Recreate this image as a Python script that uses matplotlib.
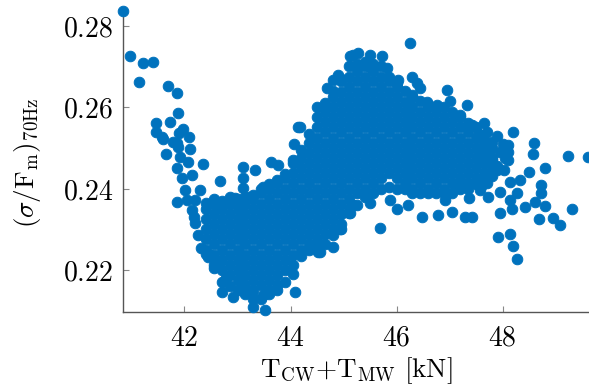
import numpy as np
import matplotlib
matplotlib.use('Agg')
import matplotlib.pyplot as plt
from matplotlib.ticker import FuncFormatter

plt.rcParams['mathtext.fontset'] = 'cm'
plt.rcParams['font.family'] = 'DejaVu Serif'

# --- dense core of the cloud, read column by column (x, list of y) ---
core_cols = [
    (42.40, [0.2240, 0.2250, 0.2275, 0.2300, 0.2325, 0.2350, 0.2365]),
    (42.55, [0.2205, 0.2213, 0.2238, 0.2263, 0.2288, 0.2313, 0.2338, 0.2363, 0.2375]),
    (42.70, [0.2170, 0.2200, 0.2225, 0.2250, 0.2275, 0.2300, 0.2325, 0.2350, 0.2370]),
    (42.85, [0.2160, 0.2188, 0.2213, 0.2238, 0.2263, 0.2288, 0.2313, 0.2338, 0.2363, 0.2380]),
    (43.00, [0.2150, 0.2175, 0.2200, 0.2225, 0.2250, 0.2275, 0.2300, 0.2325, 0.2350, 0.2375]),
    (43.15, [0.2140, 0.2163, 0.2188, 0.2213, 0.2238, 0.2263, 0.2288, 0.2313, 0.2338, 0.2363, 0.2380]),
    (43.30, [0.2130, 0.2150, 0.2175, 0.2200, 0.2225, 0.2250, 0.2275, 0.2300, 0.2325, 0.2350, 0.2375, 0.2385]),
    (43.45, [0.2130, 0.2163, 0.2188, 0.2213, 0.2238, 0.2263, 0.2288, 0.2313, 0.2338, 0.2363, 0.2388, 0.2400]),
    (43.60, [0.2140, 0.2150, 0.2175, 0.2200, 0.2225, 0.2250, 0.2275, 0.2300, 0.2325, 0.2350, 0.2375, 0.2400, 0.2410]),
    (43.75, [0.2150, 0.2163, 0.2188, 0.2213, 0.2238, 0.2263, 0.2288, 0.2313, 0.2338, 0.2363, 0.2388, 0.2413, 0.2420]),
    (43.90, [0.2170, 0.2200, 0.2225, 0.2250, 0.2275, 0.2300, 0.2325, 0.2350, 0.2375, 0.2400, 0.2425, 0.2435]),
    (44.05, [0.2190, 0.2213, 0.2238, 0.2263, 0.2288, 0.2313, 0.2338, 0.2363, 0.2388, 0.2413, 0.2438, 0.2463, 0.2470]),
    (44.20, [0.2235, 0.2250, 0.2275, 0.2300, 0.2325, 0.2350, 0.2375, 0.2400, 0.2425, 0.2450, 0.2475, 0.2495]),
    (44.35, [0.2250, 0.2263, 0.2288, 0.2313, 0.2338, 0.2363, 0.2388, 0.2413, 0.2438, 0.2463, 0.2488, 0.2513, 0.2535]),
    (44.50, [0.2255, 0.2275, 0.2300, 0.2325, 0.2350, 0.2375, 0.2400, 0.2425, 0.2450, 0.2475, 0.2500, 0.2525, 0.2550, 0.2575]),
    (44.65, [0.2265, 0.2288, 0.2313, 0.2338, 0.2363, 0.2388, 0.2413, 0.2438, 0.2463, 0.2488, 0.2513, 0.2538, 0.2563, 0.2588, 0.2610]),
    (44.80, [0.2285, 0.2300, 0.2325, 0.2350, 0.2375, 0.2400, 0.2425, 0.2450, 0.2475, 0.2500, 0.2525, 0.2550, 0.2575, 0.2600, 0.2625, 0.2640]),
    (44.95, [0.2300, 0.2313, 0.2338, 0.2363, 0.2388, 0.2413, 0.2438, 0.2463, 0.2488, 0.2513, 0.2538, 0.2563, 0.2588, 0.2613, 0.2638, 0.2663, 0.2670]),
    (45.10, [0.2340, 0.2350, 0.2375, 0.2400, 0.2425, 0.2450, 0.2475, 0.2500, 0.2525, 0.2550, 0.2575, 0.2600, 0.2625, 0.2650, 0.2675, 0.2700]),
    (45.25, [0.2360, 0.2388, 0.2413, 0.2438, 0.2463, 0.2488, 0.2513, 0.2538, 0.2563, 0.2588, 0.2613, 0.2638, 0.2663, 0.2688, 0.2705]),
    (45.40, [0.2380, 0.2400, 0.2425, 0.2450, 0.2475, 0.2500, 0.2525, 0.2550, 0.2575, 0.2600, 0.2625, 0.2650, 0.2675, 0.2700, 0.2710]),
    (45.55, [0.2390, 0.2413, 0.2438, 0.2463, 0.2488, 0.2513, 0.2538, 0.2563, 0.2588, 0.2613, 0.2638, 0.2663, 0.2688, 0.2705]),
    (45.70, [0.2400, 0.2425, 0.2450, 0.2475, 0.2500, 0.2525, 0.2550, 0.2575, 0.2600, 0.2625, 0.2650, 0.2675, 0.2700]),
    (45.85, [0.2405, 0.2438, 0.2463, 0.2488, 0.2513, 0.2538, 0.2563, 0.2588, 0.2613, 0.2638, 0.2663, 0.2675]),
    (46.00, [0.2400, 0.2425, 0.2450, 0.2475, 0.2500, 0.2525, 0.2550, 0.2575, 0.2600, 0.2625, 0.2650, 0.2660]),
    (46.15, [0.2400, 0.2413, 0.2438, 0.2463, 0.2488, 0.2513, 0.2538, 0.2563, 0.2588, 0.2613, 0.2640]),
    (46.30, [0.2390, 0.2400, 0.2425, 0.2450, 0.2475, 0.2500, 0.2525, 0.2550, 0.2575, 0.2600, 0.2625, 0.2630]),
    (46.45, [0.2390, 0.2413, 0.2438, 0.2463, 0.2488, 0.2513, 0.2538, 0.2563, 0.2588, 0.2615]),
    (46.60, [0.2390, 0.2400, 0.2425, 0.2450, 0.2475, 0.2500, 0.2525, 0.2550, 0.2575, 0.2600, 0.2605]),
    (46.75, [0.2390, 0.2413, 0.2438, 0.2463, 0.2488, 0.2513, 0.2538, 0.2563, 0.2588, 0.2600]),
    (46.90, [0.2390, 0.2400, 0.2425, 0.2450, 0.2475, 0.2500, 0.2525, 0.2550, 0.2575, 0.2600]),
    (47.05, [0.2390, 0.2413, 0.2438, 0.2463, 0.2488, 0.2513, 0.2538, 0.2563, 0.2588]),
    (47.20, [0.2400, 0.2425, 0.2450, 0.2475, 0.2500, 0.2525, 0.2550, 0.2575, 0.2580]),
    (47.35, [0.2400, 0.2413, 0.2438, 0.2463, 0.2488, 0.2513, 0.2538, 0.2560]),
    (47.50, [0.2410, 0.2425, 0.2450, 0.2475, 0.2500, 0.2525, 0.2550]),
    (47.65, [0.2420, 0.2438, 0.2463, 0.2488, 0.2513, 0.2520]),
    (47.80, [0.2430, 0.2450, 0.2475, 0.2500]),
]

# --- scattered points around the core ---
spread_x = [
    40.84, 40.97, 41.21, 41.40, 41.15, 41.69, 41.85, 41.88, 41.46, 41.73,
    41.47, 41.57, 41.59, 41.65, 41.79, 41.85, 41.90, 41.97, 42.09, 42.10,
    41.88, 41.92, 42.07, 41.85, 42.35, 41.95, 42.14, 42.67, 43.11, 43.33,
    43.11, 43.11, 43.64, 43.77, 43.49, 42.01, 42.29, 41.85, 42.20, 42.67,
    42.95, 43.24, 42.14, 42.26, 42.32, 42.45, 42.61, 42.78, 42.70, 42.92,
    43.27, 43.29, 43.52, 43.49, 44.14, 44.07, 44.08, 42.04, 42.17, 42.20,
    42.48,
    44.18, 44.49, 44.68, 44.81, 44.90, 45.12, 45.18, 45.28, 45.50, 45.72,
    45.25, 45.50, 45.82, 46.03, 46.26, 46.29, 46.38, 46.44, 46.57, 46.96,
    47.01, 46.76, 47.32, 47.42, 47.64, 47.70, 47.89, 48.19, 48.11, 48.60,
    48.58, 49.24, 49.62, 48.80, 48.49, 48.02, 47.76, 48.11, 48.11, 47.70,
    47.95, 48.14, 48.33, 48.27, 48.72, 48.72, 48.61, 48.14, 48.42, 48.17,
    48.80, 49.31, 48.68, 48.96, 49.08, 47.95, 47.73, 47.42, 47.29, 47.04,
    46.79, 46.48, 46.92, 47.36, 47.61, 47.92, 48.14, 48.19, 48.28, 45.68,
    45.50, 46.00, 46.22, 45.88, 45.18, 45.12, 44.93, 44.81, 44.52, 44.56,
    47.58, 47.20, 47.55, 47.80, 47.95, 48.05, 47.90, 48.00, 47.65, 47.65,
    47.80, 47.90,
]
spread_y = [
    0.2836, 0.2726, 0.2709, 0.2710, 0.2662, 0.2653, 0.2635, 0.2586, 0.2560, 0.2564,
    0.2540, 0.2526, 0.2521, 0.2486, 0.2515, 0.2511, 0.2536, 0.2546, 0.2526, 0.2497,
    0.2503, 0.2478, 0.2466, 0.2450, 0.2460, 0.2425, 0.2433, 0.2418, 0.2454, 0.2445,
    0.2427, 0.2401, 0.2466, 0.2458, 0.2405, 0.2396, 0.2397, 0.2368, 0.2372, 0.2360,
    0.2376, 0.2380, 0.2347, 0.2286, 0.2253, 0.2231, 0.2212, 0.2180, 0.2147, 0.2133,
    0.2143, 0.2110, 0.2102, 0.2139, 0.2550, 0.2509, 0.2147, 0.2372, 0.2331, 0.2315,
    0.2237,
    0.2552, 0.2601, 0.2646, 0.2667, 0.2679, 0.2725, 0.2728, 0.2732, 0.2728, 0.2726,
    0.2699, 0.2699, 0.2695, 0.2667, 0.2757, 0.2675, 0.2660, 0.2646, 0.2613, 0.2642,
    0.2615, 0.2605, 0.2605, 0.2556, 0.2560, 0.2538, 0.2528, 0.2540, 0.2507, 0.2511,
    0.2484, 0.2481, 0.2477, 0.2450, 0.2441, 0.2446, 0.2462, 0.2491, 0.2470, 0.2413,
    0.2392, 0.2417, 0.2421, 0.2388, 0.2409, 0.2388, 0.2368, 0.2372, 0.2354, 0.2349,
    0.2357, 0.2350, 0.2325, 0.2327, 0.2311, 0.2339, 0.2380, 0.2331, 0.2331, 0.2343,
    0.2335, 0.2330, 0.2372, 0.2376, 0.2409, 0.2282, 0.2288, 0.2259, 0.2226, 0.2304,
    0.2365, 0.2349, 0.2360, 0.2372, 0.2360, 0.2341, 0.2300, 0.2257, 0.2245, 0.2245,
    0.2396, 0.2405, 0.2535, 0.2515, 0.2490, 0.2475, 0.2455, 0.2510, 0.2490, 0.2465,
    0.2470, 0.2446,
]

x_ticks = [42, 44, 46, 48]
y_ticks = [0.22, 0.24, 0.26, 0.28]

core_x = [cx for cx, ys in core_cols for _ in ys]
core_y = [v for _, ys in core_cols for v in ys]
x = np.array(core_x + spread_x)
y = np.array(core_y + spread_y)

fig = plt.figure(figsize=(5.89, 3.89), dpi=100)
ax = fig.add_axes([123 / 589, 77 / 389, 466 / 589, 299 / 389])

blue = '#0072BD'
ax.scatter(x, y, s=58, facecolor=blue, edgecolor=blue, linewidths=0.7,
           clip_on=False, zorder=3)

ax.set_xlim(40.84, 49.63)
ax.set_ylim(0.2097, 0.2831)
ax.set_xticks(x_ticks)
ax.set_yticks(y_ticks)
ax.xaxis.set_major_formatter(FuncFormatter(lambda v, p: f'${v:.0f}$'))
ax.yaxis.set_major_formatter(FuncFormatter(lambda v, p: f'${v:.2f}$'))

for side in ['top', 'right']:
    ax.spines[side].set_visible(False)
for side in ['left', 'bottom']:
    ax.spines[side].set_color('#555555')
    ax.spines[side].set_linewidth(1.0)

ax.tick_params(direction='in', length=4, width=0.8, color='#888888',
               labelsize=20, pad=7)
ax.tick_params(axis='x', pad=9)

ax.set_xlabel(r'$\mathrm{T_{CW}{+}T_{MW}\ [kN]}$', fontsize=19.5, labelpad=3)
ax.set_ylabel(r'$(\sigma/\mathrm{F_m})_{\mathrm{70Hz}}$', fontsize=19.5, labelpad=14)

fig.savefig('out.png', dpi=100)
